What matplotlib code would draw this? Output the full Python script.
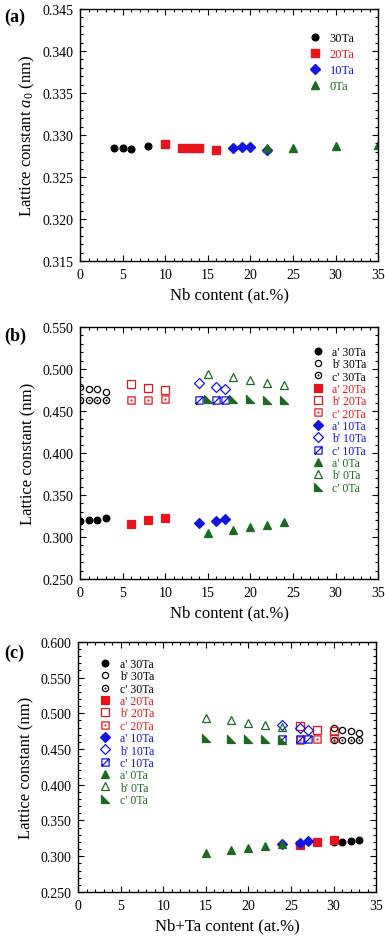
import matplotlib

matplotlib.use("Agg")
import matplotlib.pyplot as plt
from matplotlib.path import Path
from matplotlib.ticker import MultipleLocator, FormatStrFormatter

plt.rcParams["font.family"] = ["Liberation Serif", "DejaVu Serif"]
plt.rcParams["mathtext.fontset"] = "custom"
plt.rcParams["mathtext.rm"] = "Liberation Serif"
plt.rcParams["mathtext.it"] = "Liberation Serif:italic"

# --- data ---------------------------------------------------------------
groups = ["30Ta", "20Ta", "10Ta", "0Ta"]
ta_content = [30, 20, 10, 0]
colors = ["#000000", "#e8141c", "#1414e0", "#1b6b1f"]

# panel (a): bcc lattice constant a0
nb_a = [[4, 5, 6, 8], [10, 12, 13, 14, 16], [18, 19, 20, 22], [22, 25, 30, 35]]
a0 = [
    [0.3285, 0.3285, 0.3283, 0.3287],
    [0.3289, 0.3285, 0.3284, 0.3284, 0.3282],
    [0.3285, 0.3286, 0.3286, 0.3282],
    [0.3285, 0.3285, 0.3287, 0.3288],
]

# panels (b), (c): orthorhombic a', b', c'
nb_o = [[0, 1, 2, 3], [6, 8, 10], [14, 16, 17], [15, 18, 20, 22, 24]]
a_p = [
    [0.3196, 0.3204, 0.3208, 0.3224],
    [0.3160, 0.3200, 0.3232],
    [0.3168, 0.3188, 0.3216],
    [0.3052, 0.3084, 0.3116, 0.3144, 0.3176],
]
b_p = [
    [0.4788, 0.4760, 0.4756, 0.4728],
    [0.4816, 0.4768, 0.4752],
    [0.4836, 0.4788, 0.4764],
    [0.4940, 0.4904, 0.4864, 0.4836, 0.4804],
]
c_p = [
    [0.4628, 0.4628, 0.4628, 0.4628],
    [0.4628, 0.4636, 0.4648],
    [0.4636, 0.4636, 0.4636],
    [0.4648, 0.4640, 0.4640, 0.4636, 0.4628],
]

# --- custom markers -----------------------------------------------------
_sq = Path([(-1, -1), (1, -1), (1, 1), (-1, 1), (-1, -1)],
           [Path.MOVETO, Path.LINETO, Path.LINETO, Path.LINETO, Path.CLOSEPOLY])
circ_dot = Path.make_compound_path(Path.unit_circle(), Path.circle((0, 0), 0.12))
sq_dot = Path.make_compound_path(_sq, Path.circle((0, 0), 0.12))
sq_slash = Path.make_compound_path(_sq, Path([(-1, -1), (1, 1)], [Path.MOVETO, Path.LINETO]))
half_tri = Path([(-1, 1), (-1, -1), (1, -1), (-1, 1)],
                [Path.MOVETO, Path.LINETO, Path.LINETO, Path.CLOSEPOLY])

# (marker, filled) for a', b', c' per group
styles = [
    [("o", True), ("o", False), (circ_dot, False)],
    [("s", True), ("s", False), (sq_dot, False)],
    [("D", True), ("D", False), (sq_slash, False)],
    [("^", True), ("^", False), (half_tri, True)],
]
sizes = [[4.8, 4.5, 4.5], [5.2, 5.2, 5.2], [5, 5, 5.2], [5.8, 5.8, 5.2]]
main_marker = ["o", "s", "D", "^"]


def style_axes(ax, ymin, ymax, ymaj, ymin_step):
    ax.set_xlim(0, 35)
    ax.set_ylim(ymin, ymax)
    ax.xaxis.set_major_locator(MultipleLocator(5))
    ax.xaxis.set_minor_locator(MultipleLocator(1))
    ax.yaxis.set_major_locator(MultipleLocator(ymaj))
    ax.yaxis.set_minor_locator(MultipleLocator(ymin_step))
    ax.yaxis.set_major_formatter(FormatStrFormatter("%.3f"))
    ax.tick_params(which="both", direction="in", top=True, right=True, labelsize=10, width=0.8)
    ax.tick_params(which="major", length=4, pad=5)
    ax.tick_params(which="minor", length=2)
    for s in ax.spines.values():
        s.set_linewidth(1.0)


def draw_ortho(ax, use_total):
    for i, g in enumerate(groups):
        xs = [x + ta_content[i] for x in nb_o[i]] if use_total else nb_o[i]
        for j, (lab, ys) in enumerate(zip(["a'", "b'", "c'"], [a_p[i], b_p[i], c_p[i]])):
            mk, filled = styles[i][j]
            ax.plot(xs, ys, linestyle="none", marker=mk, ms=sizes[i][j],
                    mfc=colors[i] if filled else "none", mec=colors[i], mew=0.9,
                    label=f"{lab} {g}")


fig = plt.figure(figsize=(3.85, 9.37), dpi=100)

# (a)
ax1 = fig.add_axes([0.208, 0.7204, 0.774, 0.269])
for i, g in enumerate(groups):
    ax1.plot(nb_a[i], a0[i], linestyle="none", marker=main_marker[i], ms=sizes[i][0],
             color=colors[i], label=g)
style_axes(ax1, 0.315, 0.345, 0.005, 0.001)
ax1.set_xlabel("Nb content (at.%)", fontsize=12)
ax1.set_ylabel("Lattice constant $\\mathit{a}_0$ (nm)", fontsize=12)
leg = ax1.legend(loc="upper right", frameon=False, fontsize=9, labelspacing=0.32,
                 handletextpad=0.6, handlelength=1.2, borderaxespad=1.0, bbox_to_anchor=(0.98, 0.976))
for t, c in zip(leg.get_texts(), colors):
    t.set_color(c)
fig.text(0.01, 0.982, "(a)", fontsize=13, fontweight="bold", va="center")

# (b)
ax2 = fig.add_axes([0.208, 0.381, 0.774, 0.269])
draw_ortho(ax2, False)
style_axes(ax2, 0.25, 0.55, 0.05, 0.01)
ax2.set_xlabel("Nb content (at.%)", fontsize=12)
ax2.set_ylabel("Lattice constant (nm)", fontsize=12)
leg = ax2.legend(loc="upper right", frameon=False, fontsize=8.5, labelspacing=0.03,
                 handletextpad=0.6, handlelength=1.2, borderaxespad=0.3, bbox_to_anchor=(0.99, 0.958))
for k, t in enumerate(leg.get_texts()):
    t.set_color(colors[k // 3])
fig.text(0.01, 0.641, "(b)", fontsize=13, fontweight="bold", va="center")

# (c)
ax3 = fig.add_axes([0.203, 0.047, 0.774, 0.267])
draw_ortho(ax3, True)
style_axes(ax3, 0.25, 0.60, 0.05, 0.01)
ax3.set_xlabel("Nb+Ta content (at.%)", fontsize=12)
ax3.set_ylabel("Lattice constant (nm)", fontsize=12)
leg = ax3.legend(loc="upper left", frameon=False, fontsize=8.5, labelspacing=0.03,
                 handletextpad=0.6, handlelength=1.2, borderaxespad=0.3, bbox_to_anchor=(0.04, 0.968))
for k, t in enumerate(leg.get_texts()):
    t.set_color(colors[k // 3])
fig.text(0.01, 0.303, "(c)", fontsize=13, fontweight="bold", va="center")

fig.savefig("out.png", dpi=100)
